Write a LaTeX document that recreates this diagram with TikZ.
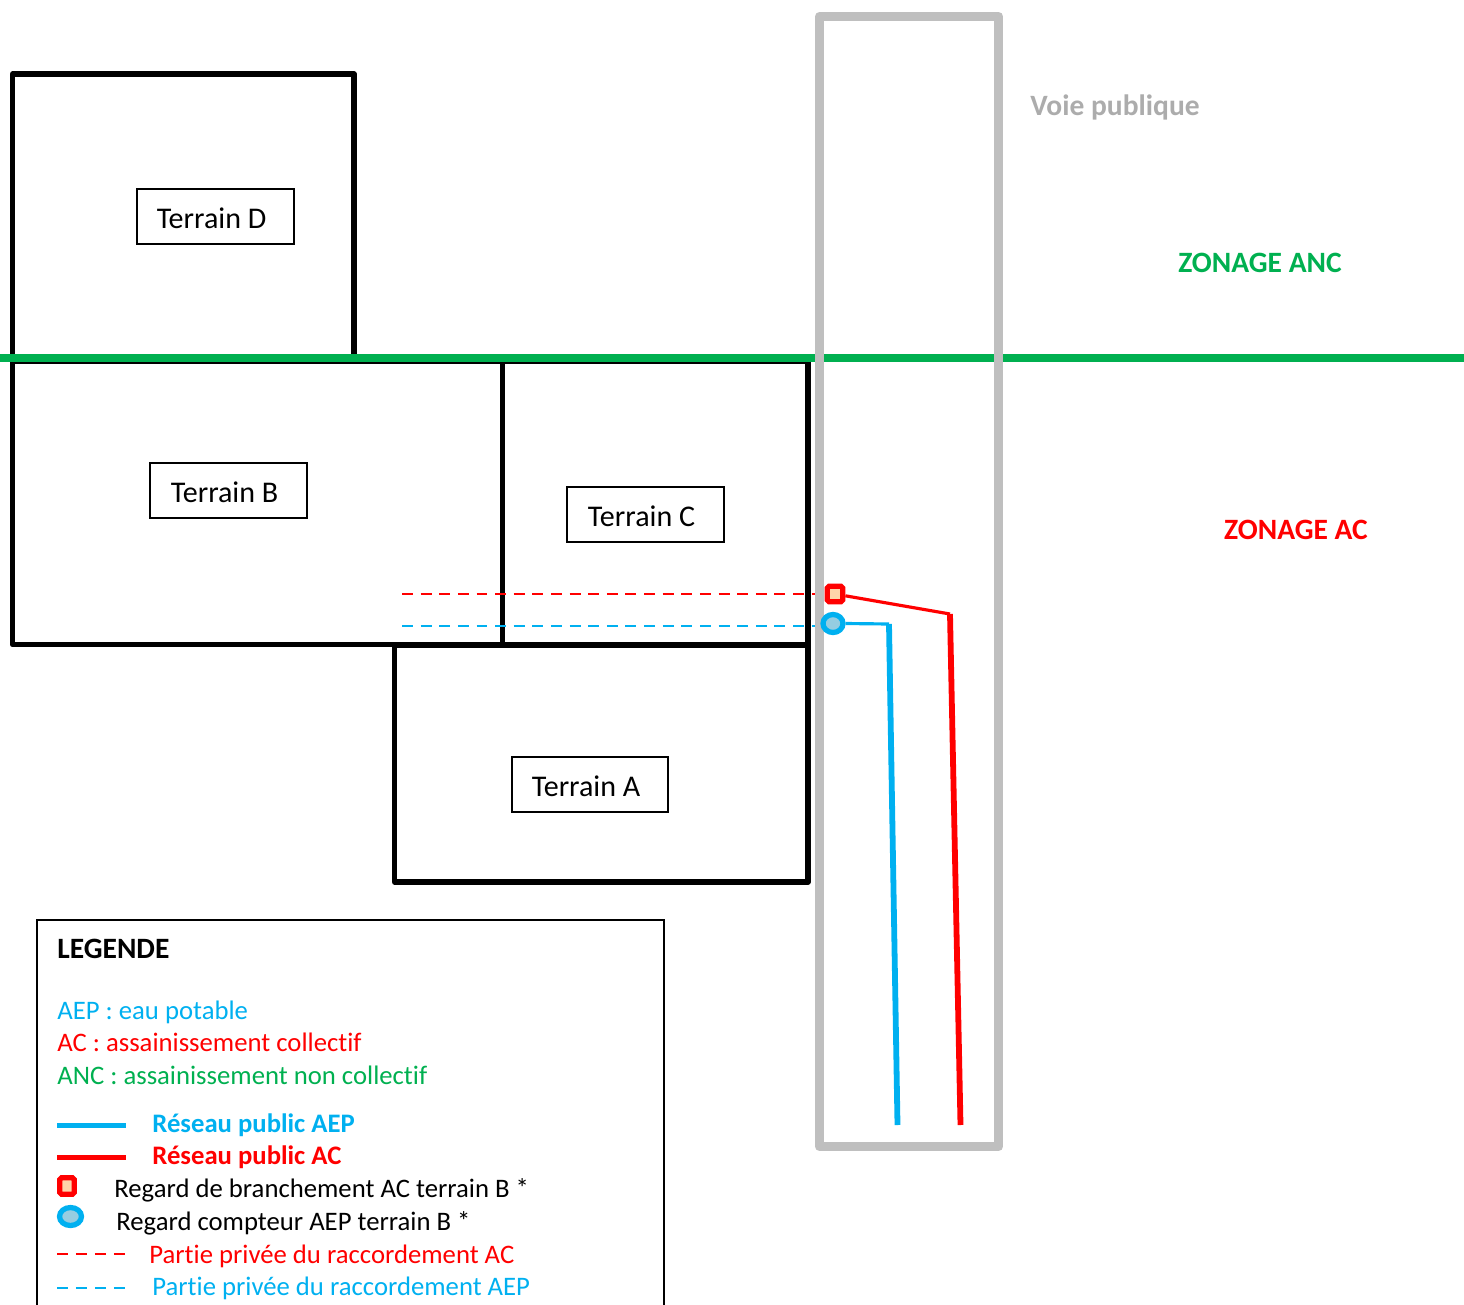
\documentclass[tikz,border=0pt]{standalone}
\usepackage{fontspec}
\setmainfont[Ligatures=NoCommon]{Carlito}
\usetikzlibrary{shapes.geometric}
\definecolor{aep}{RGB}{0,176,240}
\definecolor{ac}{RGB}{255,0,0}
\definecolor{anc}{RGB}{0,176,80}
\definecolor{voie}{RGB}{191,191,191}
\definecolor{peche}{RGB}{255,212,170}
\definecolor{eau}{RGB}{150,205,225}
\tikzset{
  parcelle/.style={line width=3pt, draw=black, line join=round},
  etiquette/.style={draw=black, line width=1pt, minimum width=3.13cm, minimum height=1.09cm, inner sep=0pt, text height=13.5pt, text depth=0pt, font=\fontsize{17.1}{20}\selectfont, execute at end node={\hspace{4.5pt}}},
  zonage/.style={font=\fontsize{16.8}{20}\selectfont\bfseries},
  legende/.style={anchor=west, inner sep=0pt, text height=11pt, text depth=3pt, font=\fontsize{15.2}{18}\selectfont},
  regardac/.style={rectangle, rounded corners=1pt, draw=ac, fill=peche, line width=3pt, minimum size=.31cm, inner sep=0pt},
  regardaep/.style={ellipse, draw=aep, fill=eau, line width=3pt, minimum width=.4cm, minimum height=.36cm, inner sep=0pt},
}
\begin{document}
\begin{tikzpicture}[x=.02cm, y=-.02cm]
\useasboundingbox (0,0) rectangle (1464,1305);
% parcelles
\draw[parcelle] (12.5,358)--(12.5,74)--(354,74)--(354,358);
\draw[parcelle] (12.5,361) rectangle (502.5,644.5);
\draw[parcelle] (502.5,361) rectangle (808,645);
\draw[parcelle] (394.5,645) rectangle (808,882);
\node[etiquette] (terrainD) at (215.5,216.5) {Terrain D};
\node[etiquette] (terrainB) at (228.5,490.5) {Terrain B};
\node[etiquette] (terrainC) at (645.5,514.5) {Terrain C};
\node[etiquette] (terrainA) at (590,784.5) {Terrain A};
% limite de zonage
\draw[anc, line width=4.5pt] (0,358)--(1464,358);
% voie
\draw[voie, line width=5.1pt, line join=round] (819.5,16.5) rectangle (998.5,1146.5);
\node[voie!90!black, zonage, anchor=west, inner sep=0pt] (voie) at (1030,107) {Voie publique};
\node[anc, zonage] (zoneANC) at (1260,263) {ZONAGE ANC};
\node[ac, zonage] (zoneAC) at (1296,530) {ZONAGE AC};
% regards et reseaux
\coordinate (coudeAC) at (950,614);
\coordinate (coudeAEP) at (889,624);
\coordinate (finAC) at (960.5,1125);
\coordinate (finAEP) at (897.5,1125);
\coordinate (debutAC) at (402,594);
\coordinate (debutAEP) at (402,626);
\coordinate (bordAC) at (815,594);
\coordinate (bordAEP) at (815,626);
\draw[ac, line width=1.5pt, dash pattern=on 6.2pt off 4.4pt] (debutAC)--(bordAC);
\draw[aep, line width=1.5pt, dash pattern=on 6.2pt off 4.4pt] (debutAEP)--(bordAEP);
\node[regardac] (regardAC) at (835,594) {};
\node[regardaep] (regardAEP) at (833,623.5) {};
\draw[ac, line width=1.8pt] (regardAC)--(coudeAC);
\draw[ac, line width=3.3pt] (coudeAC)--(finAC);
\draw[aep, line width=1.8pt] (regardAEP.east)--(coudeAEP);
\draw[aep, line width=3.3pt] (coudeAEP)--(finAEP);
% legende
\draw[black, line width=1.2pt] (37,1320)--(37,920)--(664,920)--(664,1320);
\node[legende, font=\fontsize{16.8}{20}\selectfont\bfseries] (titre) at (57,951) {LEGENDE};
\node[legende, aep] (leg1) at (57,1012) {AEP : eau potable};
\node[legende, ac] (leg2) at (57,1044) {AC : assainissement collectif};
\node[legende, anc] (leg3) at (57,1077) {ANC : assainissement non collectif};
\foreach \nom/\coul/\y/\txt in {a/aep/1125/R\'eseau public AEP, b/ac/1157/R\'eseau public AC}
{
    \node[legende, \coul, font=\fontsize{15.2}{18}\selectfont\bfseries] (leg\nom) at (152,\y+.5) {\txt};
    \coordinate (trait\nom) at (57,\y+.5);
    \draw[\coul, line width=2.6pt] (trait\nom)--++(69,0);
}
\node[regardac, minimum width=.29cm, minimum height=.33cm, line width=3pt] (symAC) at (67,1186) {};
\node[legende] (legc) at (114,1190) {Regard de branchement AC terrain B *};
\node[regardaep, minimum width=.44cm, minimum height=.36cm] (symAEP) at (70.5,1216.5) {};
\node[legende] (legd) at (116,1223) {Regard compteur AEP terrain B *};
\foreach \nom/\coul/\y/\x/\d/\txt in {e/ac/1254/149/2/Partie priv\'ee du raccordement AC, f/aep/1288/152/0/Partie priv\'ee du raccordement AEP}
{
    \node[legende, \coul] (leg\nom) at (\x,\y+\d) {\txt};
    \coordinate (trait\nom) at (57,\y);
    \draw[\coul, line width=1.6pt, dash pattern=on 6.2pt off 4.6pt] (trait\nom)--++(69,0);
}
\end{tikzpicture}
\end{document}
